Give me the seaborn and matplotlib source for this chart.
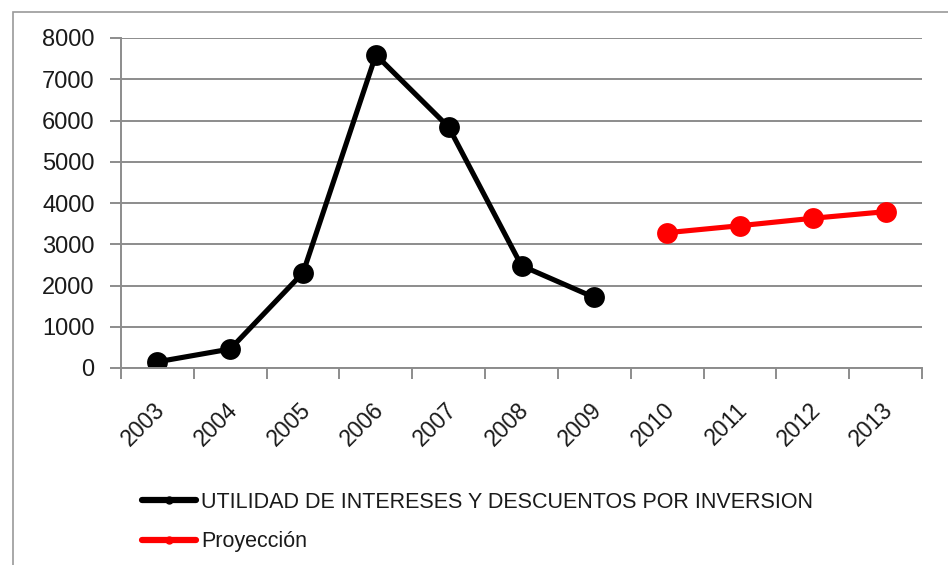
import matplotlib
matplotlib.use("Agg")
import matplotlib.pyplot as plt
from matplotlib.patches import Rectangle
from matplotlib.lines import Line2D
from matplotlib.ticker import FixedLocator
from matplotlib.transforms import ScaledTranslation
import seaborn as sns
import pandas as pd

# Historical series and projection
years_hist = [2003, 2004, 2005, 2006, 2007, 2008, 2009]
utilidad = [150, 460, 2310, 7590, 5840, 2480, 1710]
years_proj = [2010, 2011, 2012, 2013]
proyeccion = [3280, 3450, 3630, 3790]

serie_hist = "UTILIDAD DE INTERESES Y DESCUENTOS POR INVERSION"
serie_proj = "Proyección"
y_ticks = [0, 1000, 2000, 3000, 4000, 5000, 6000, 7000, 8000]
x_labels = [str(y) for y in years_hist + years_proj]

df = pd.DataFrame({
    "anio": years_hist + years_proj,
    "valor": utilidad + proyeccion,
    "serie": [serie_hist] * len(years_hist) + [serie_proj] * len(years_proj),
})

sns.set_theme(style="white")
plt.rcParams["font.family"] = ["Liberation Sans", "DejaVu Sans"]

fig = plt.figure(figsize=(9.48, 5.65), dpi=100)
ax = fig.add_axes([121 / 948, 1 - 368 / 565, (922 - 121) / 948, (368 - 38) / 565])

sns.lineplot(
    data=df, x="anio", y="valor", hue="serie",
    palette={serie_hist: "black", serie_proj: "#ff0000"},
    marker="o", markersize=15, markeredgewidth=0, linewidth=3.7,
    legend=False, ax=ax,
)

grid_c = "#8c8c8c"
ax.set_xlim(years_hist[0] - 0.5, years_proj[-1] + 0.5)
ax.set_ylim(0, 8000)
ax.set_yticks(y_ticks)
ax.set_yticklabels([str(v) for v in y_ticks])
ax.yaxis.grid(True, color=grid_c, linewidth=1.4)
ax.set_axisbelow(True)

ax.set_xticks(years_hist + years_proj)
ax.set_xticklabels(x_labels, rotation=45, ha="right", va="top", rotation_mode="anchor")
ax.xaxis.set_minor_locator(FixedLocator([y - 0.5 for y in years_hist + years_proj] + [years_proj[-1] + 0.5]))
ax.tick_params(axis="x", which="major", length=0, pad=22, labelsize=16.5, labelcolor="#1a1a1a")
ax.tick_params(axis="x", which="minor", length=8, width=1.4, color=grid_c, bottom=True)
ax.tick_params(axis="y", which="major", length=8, width=1.4, color=grid_c, left=True,
               pad=11, labelsize=17, labelcolor="#1a1a1a")
shift = ScaledTranslation(-4 / 100, 0, fig.dpi_scale_trans)
for lbl in ax.get_xticklabels():
    lbl.set_transform(lbl.get_transform() + shift)

ax.set_xlabel("")
ax.set_ylabel("")
for side in ("top", "right"):
    ax.spines[side].set_visible(False)
for side in ("left", "bottom"):
    ax.spines[side].set_color(grid_c)
    ax.spines[side].set_linewidth(1.4)

# Legend below the plot area
handles = [
    Line2D([], [], color="black", linewidth=4.5, marker="o", markersize=5),
    Line2D([], [], color="#ff0000", linewidth=4.5, marker="o", markersize=5),
]
fig.legend(handles, [serie_hist, serie_proj], loc="upper left",
           bbox_to_anchor=(142 / 948, 1 - 492 / 565), frameon=False,
           fontsize=15.5, handlelength=2.5, handletextpad=0.25,
           labelspacing=0.85, borderpad=0, borderaxespad=0, labelcolor="#1a1a1a")

# Outer chart frame
fig.add_artist(Rectangle((12.5 / 948, -0.05), 1.1, 1 - 11.5 / 565 + 0.05,
                         transform=fig.transFigure, fill=False,
                         edgecolor="#9a9a9a", linewidth=1.2))

fig.savefig("out.png", dpi=100)
